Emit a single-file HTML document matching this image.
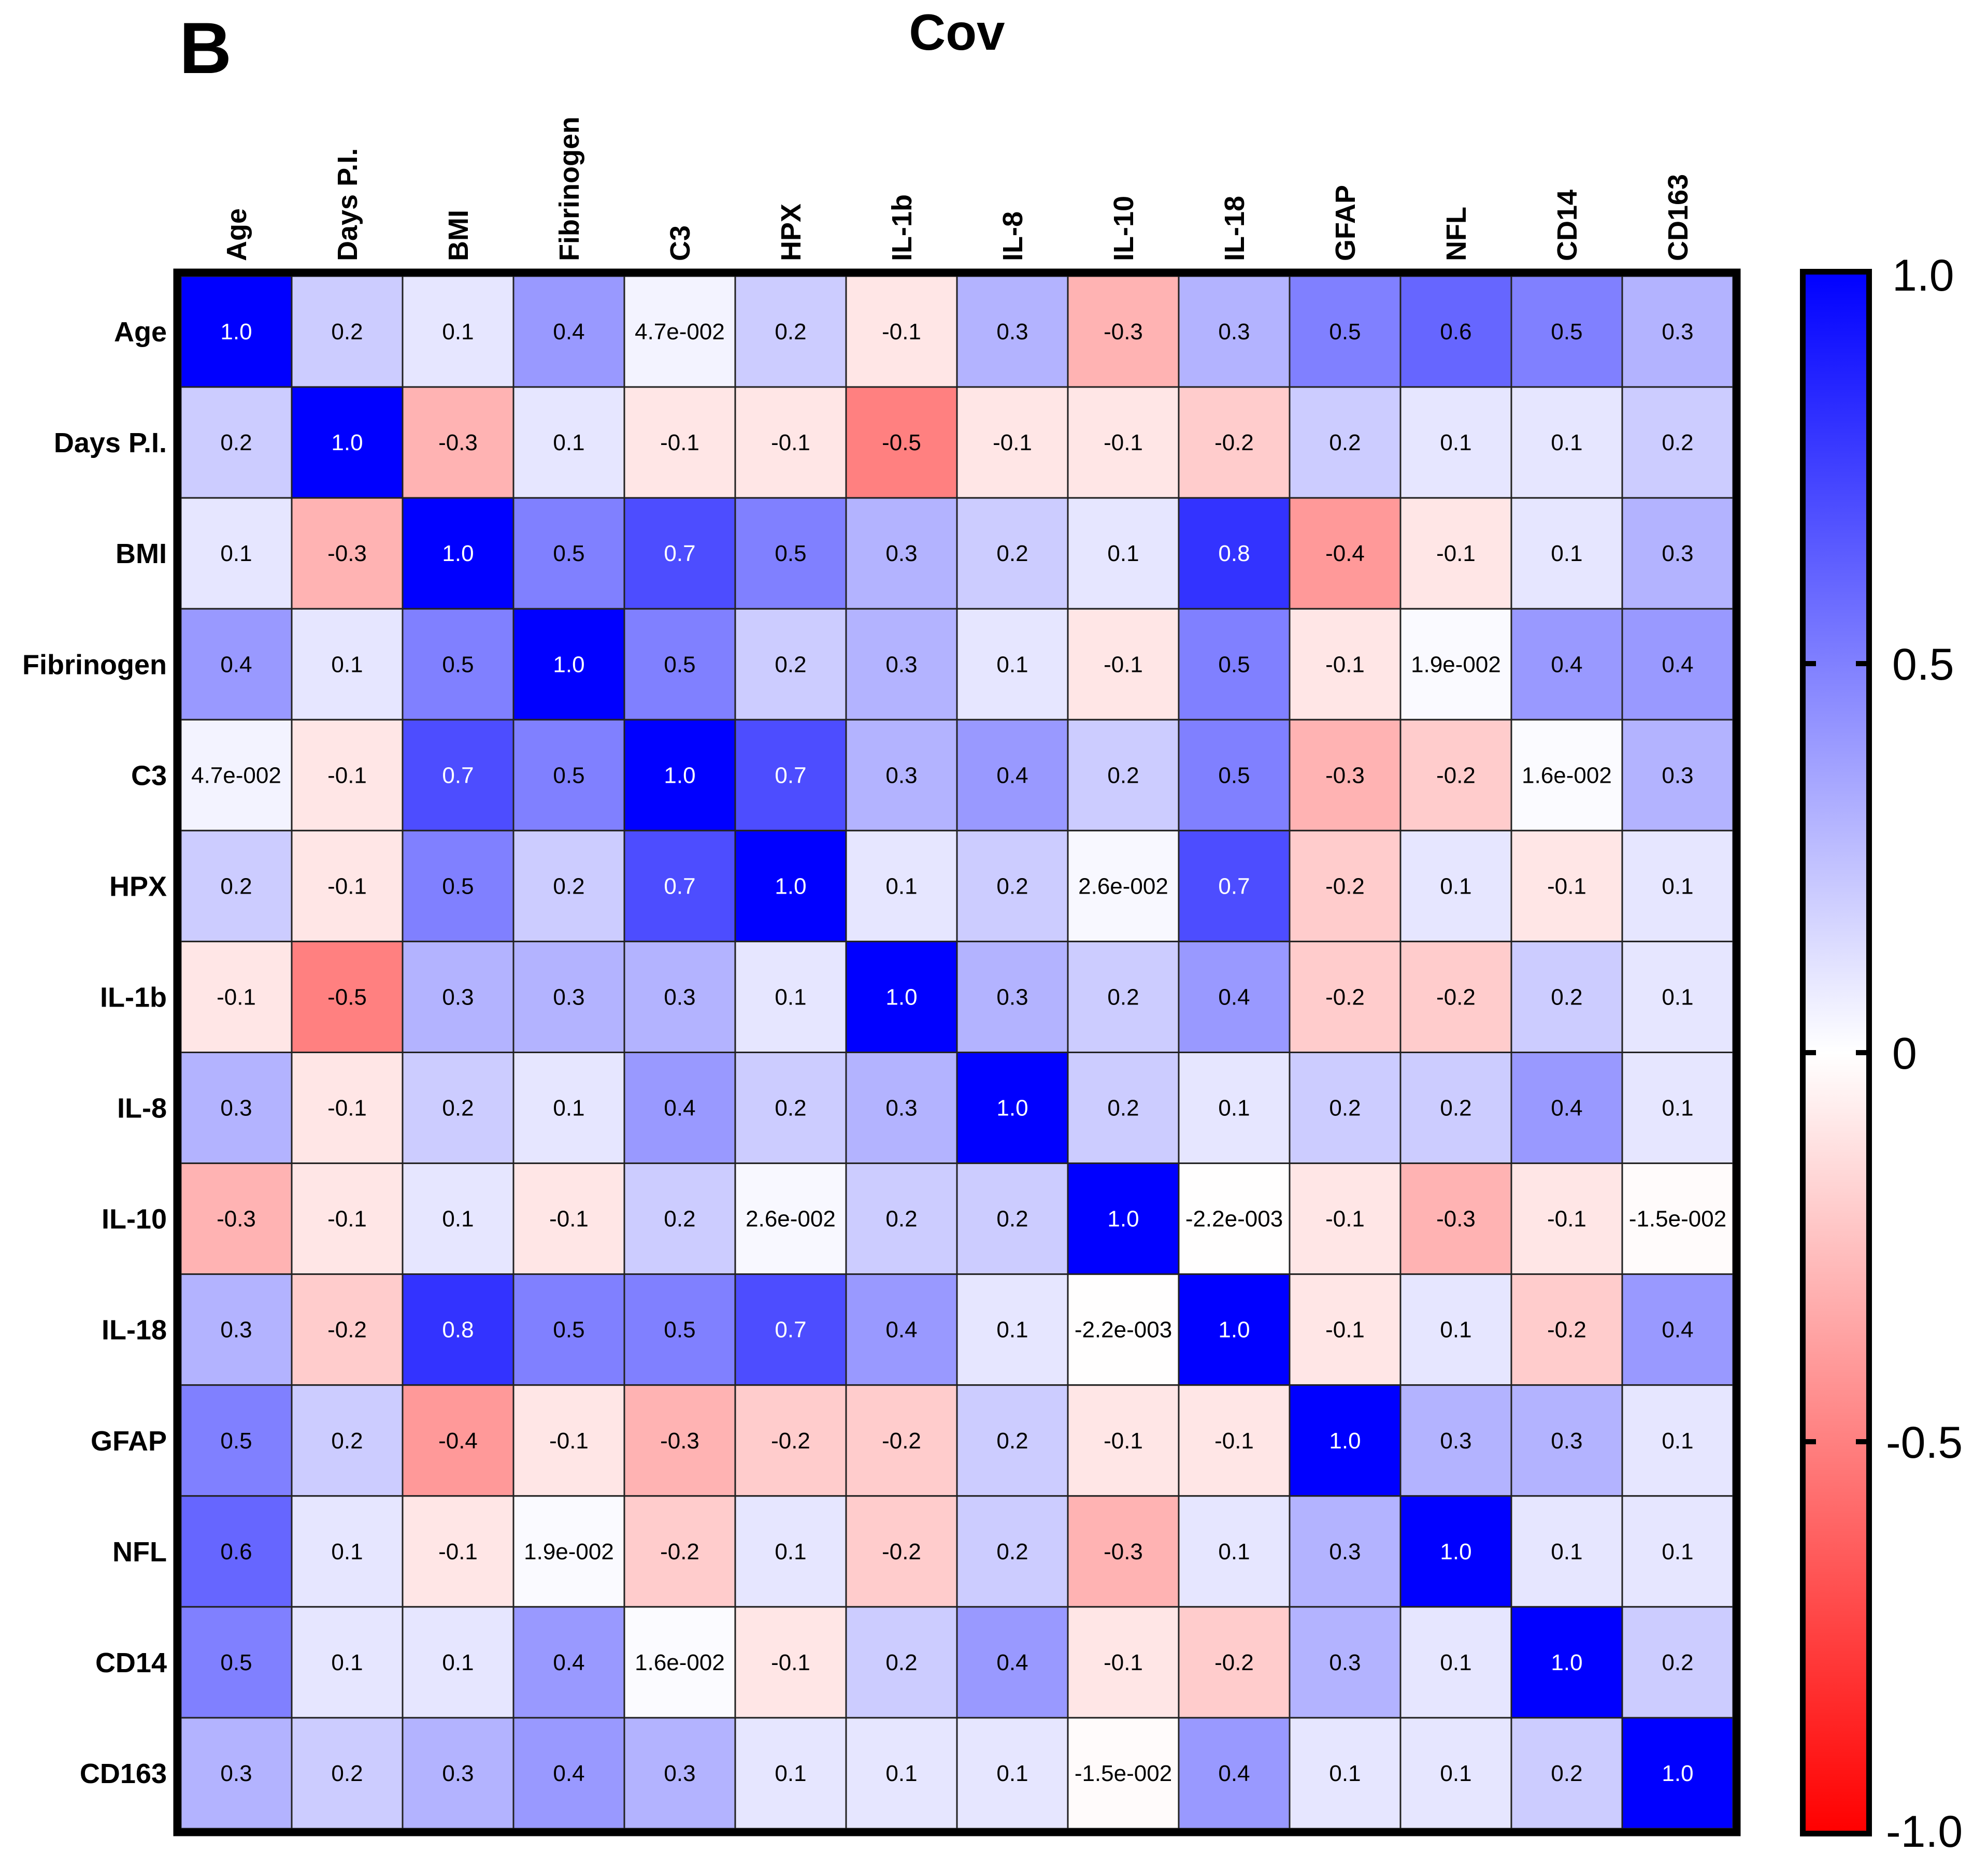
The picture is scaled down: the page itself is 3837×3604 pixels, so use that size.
<!DOCTYPE html>
<html><head><meta charset="utf-8"><style>
html,body{margin:0;padding:0;background:#fff;}
svg{display:block;font-family:"Liberation Sans",Arial,sans-serif;}
</style></head><body>
<svg id="chart" width="3837" height="3604" viewBox="0 0 3837 3604" xmlns="http://www.w3.org/2000/svg">
<defs>
<linearGradient id="cbgrad" x1="0" y1="0" x2="0" y2="1">
<stop offset="0" stop-color="#0000ff"/><stop offset="0.5" stop-color="#ffffff"/><stop offset="1" stop-color="#ff0000"/>
</linearGradient>
</defs>
<text x="346" y="141" font-size="140" font-weight="bold">B</text>
<text x="1847" y="96" font-size="98" font-weight="bold" text-anchor="middle">Cov</text>
<g id="cells"></g>
<g id="labels"></g>
<g id="cbar"></g>
</svg>
<script>
const categories = ["Age","Days P.I.","BMI","Fibrinogen","C3","HPX","IL-1b","IL-8","IL-10","IL-18","GFAP","NFL","CD14","CD163"];
const rowAge   = [1.0,0.2,0.1,0.4,0.047,0.2,-0.1,0.3,-0.3,0.3,0.5,0.6,0.5,0.3];
const rowDays  = [0.2,1.0,-0.3,0.1,-0.1,-0.1,-0.5,-0.1,-0.1,-0.2,0.2,0.1,0.1,0.2];
const rowBMI   = [0.1,-0.3,1.0,0.5,0.7,0.5,0.3,0.2,0.1,0.8,-0.4,-0.1,0.1,0.3];
const rowFib   = [0.4,0.1,0.5,1.0,0.5,0.2,0.3,0.1,-0.1,0.5,-0.1,0.019,0.4,0.4];
const rowC3    = [0.047,-0.1,0.7,0.5,1.0,0.7,0.3,0.4,0.2,0.5,-0.3,-0.2,0.016,0.3];
const rowHPX   = [0.2,-0.1,0.5,0.2,0.7,1.0,0.1,0.2,0.026,0.7,-0.2,0.1,-0.1,0.1];
const rowIL1b  = [-0.1,-0.5,0.3,0.3,0.3,0.1,1.0,0.3,0.2,0.4,-0.2,-0.2,0.2,0.1];
const rowIL8   = [0.3,-0.1,0.2,0.1,0.4,0.2,0.3,1.0,0.2,0.1,0.2,0.2,0.4,0.1];
const rowIL10  = [-0.3,-0.1,0.1,-0.1,0.2,0.026,0.2,0.2,1.0,-0.0022,-0.1,-0.3,-0.1,-0.015];
const rowIL18  = [0.3,-0.2,0.8,0.5,0.5,0.7,0.4,0.1,-0.0022,1.0,-0.1,0.1,-0.2,0.4];
const rowGFAP  = [0.5,0.2,-0.4,-0.1,-0.3,-0.2,-0.2,0.2,-0.1,-0.1,1.0,0.3,0.3,0.1];
const rowNFL   = [0.6,0.1,-0.1,0.019,-0.2,0.1,-0.2,0.2,-0.3,0.1,0.3,1.0,0.1,0.1];
const rowCD14  = [0.5,0.1,0.1,0.4,0.016,-0.1,0.2,0.4,-0.1,-0.2,0.3,0.1,1.0,0.2];
const rowCD163 = [0.3,0.2,0.3,0.4,0.3,0.1,0.1,0.1,-0.015,0.4,0.1,0.1,0.2,1.0];
const matrix = [rowAge,rowDays,rowBMI,rowFib,rowC3,rowHPX,rowIL1b,rowIL8,rowIL10,rowIL18,rowGFAP,rowNFL,rowCD14,rowCD163];
const cbTicks = [1.0,0.5,0,-0.5,-1.0];
const cbTickLabels = ["1.0","0.5","0","-0.5","-1.0"];

const NS="http://www.w3.org/2000/svg";
const GX0=349,GX1=3345,GY0=533,GY1=3530;
const n=categories.length;
const cw=(GX1-GX0)/n, ch=(GY1-GY0)/n;
const xCell=i=>GX0+i*cw, yCell=j=>GY0+j*ch;
const CB_X0=3485,CB_X1=3602,CB_Y0=530,CB_Y1=3534;
const yCb=v=>CB_Y0+(1-v)/2*(CB_Y1-CB_Y0);
function color(v){
  v=Math.max(-1,Math.min(1,v));
  if(v>=0){const c=Math.round(255*(1-v));return `rgb(${c},${c},255)`;}
  const c=Math.round(255*(1+v));return `rgb(255,${c},${c})`;
}
function fmt(v){
  if(Math.abs(v)>=0.05) return v.toFixed(1);
  let s=v.toExponential(1);
  const m=s.match(/^(-?[\d.]+)e([+-])(\d+)$/);
  return m[1]+"e"+(m[2]==="-"?"-":"+")+m[3].padStart(3,"0");
}
function mk(tag,attrs,parent){const e=document.createElementNS(NS,tag);for(const k in attrs)e.setAttribute(k,attrs[k]);parent.appendChild(e);return e;}

const cells=document.getElementById('cells');
for(let r=0;r<n;r++){
  for(let c=0;c<n;c++){
    const v=matrix[r][c];
    const rect=mk('rect',{x:xCell(c),y:yCell(r),width:cw,height:ch,fill:color(v),stroke:'#222','stroke-width':3},cells);
    
    
    const t=mk('text',{x:xCell(c)+cw/2,y:yCell(r)+ch/2+15,'font-size':44,'text-anchor':'middle',fill:(v>=0.65?'#fff':'#000')},cells);
    t.textContent=fmt(v);
    
    
  }
}
const frame=mk('rect',{x:GX0-7,y:GY0-7,width:GX1-GX0+14,height:GY1-GY0+14,fill:'none',stroke:'#000','stroke-width':15},cells);



const labels=document.getElementById('labels');
for(let i=0;i<n;i++){
  const rl=mk('text',{x:322,y:yCell(i)+ch/2+19,'font-size':54,'font-weight':'bold','text-anchor':'end'},labels);
  rl.textContent=categories[i];
  
  
  const cx=xCell(i)+cw/2+19;
  const cl=mk('text',{x:cx,y:504,'font-size':54,'font-weight':'bold','text-anchor':'start',transform:`rotate(-90 ${cx} 504)`},labels);
  cl.textContent=categories[i];
  
  
}

const cb=document.getElementById('cbar');
const bar=mk('rect',{x:CB_X0-5.5,y:CB_Y0-5.5,width:CB_X1-CB_X0+11,height:CB_Y1-CB_Y0+11,fill:'url(#cbgrad)',stroke:'#000','stroke-width':11},cb);


for(let k=0;k<cbTicks.length;k++){
  const y=yCb(cbTicks[k]);
  if(Math.abs(cbTicks[k])<1){
    const t1=mk('line',{x1:CB_X0,x2:CB_X0+20,y1:y,y2:y,stroke:'#000','stroke-width':10},cb);
    
    
    const t2=mk('line',{x1:CB_X1-20,x2:CB_X1,y1:y,y2:y,stroke:'#000','stroke-width':10},cb);
    
    
  }
  const lb=mk('text',{x:cbTicks[k]<0?3640:3652,y:y+31,'font-size':86},cb);
  lb.textContent=cbTickLabels[k];
  
  
}
</script>
</body></html>
